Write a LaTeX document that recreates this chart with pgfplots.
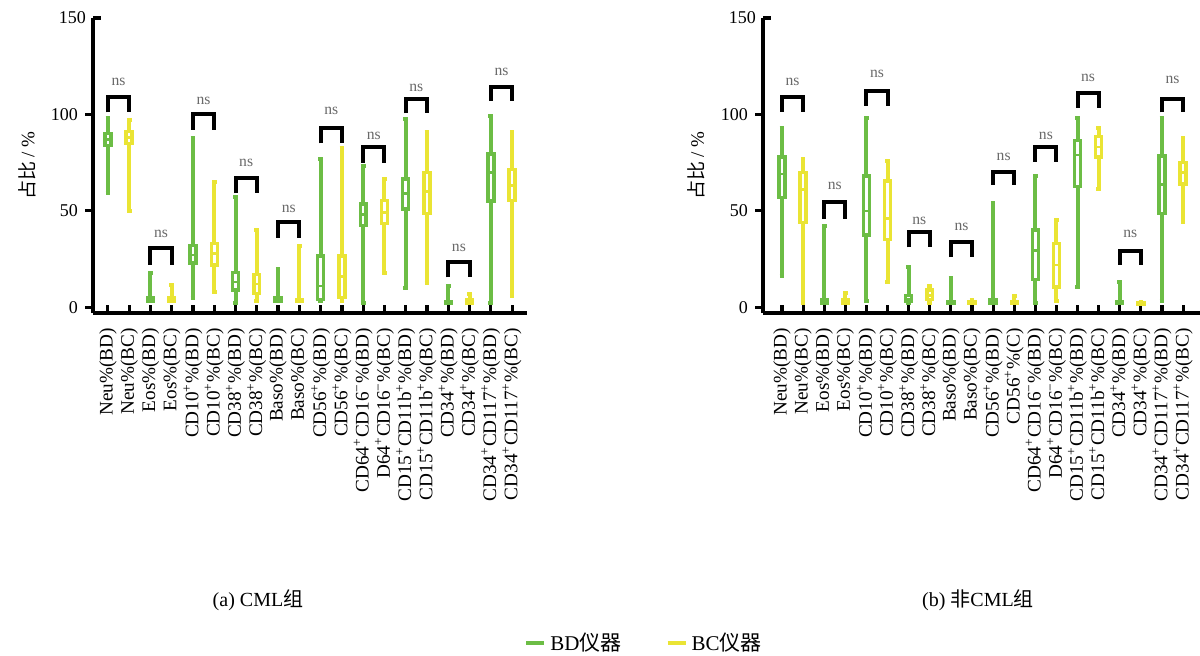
\documentclass[border=0pt]{standalone}
\usepackage{fontspec}
\setmainfont{Liberation Serif}
\newfontfamily\cjk{Noto Sans CJK SC}
\usepackage{pgfplots}
\pgfplotsset{compat=1.18}
\usepgfplotslibrary{statistics}
\definecolor{bdg}{RGB}{108,189,69}
\definecolor{bcy}{RGB}{234,228,52}
\definecolor{nsgray}{RGB}{105,105,105}

\pgfplotsset{
  boxplot/draw direction=y,
  boxplot/box extend=0.28,
  boxplot/whisker extend=0.22,
  boxplot/every box/.style={line width=1.7pt, fill=white},
  boxplot/every whisker/.style={line width=2pt},
  boxplot/every median/.style={line width=1.3pt},
  gbox/.style={draw=bdg, solid, forget plot},
  ybox/.style={draw=bcy, solid, forget plot},
  panel/.style={
    scale only axis, height=147.5pt,
    ymin=-3, ymax=150, clip=false,
    axis lines=left, axis line style={-, line width=2pt, black},
    ytick={0,50,100}, extra y ticks={150},
    extra y tick style={ytick align=inside},
    ytick align=outside, xtick align=inside,
    major tick length=4pt,
    tick style={line width=1.6pt, black},
    xtick={0,...,19},
    /pgf/number format/assume math mode=true,
    yticklabel style={font=\fontsize{9}{9}\selectfont},
    xticklabel style={rotate=90, anchor=east, font=\fontsize{9.6}{9.6}\selectfont},
    xticklabel shift=4pt,
    ylabel={{\cjk 占比} / \%},
    ylabel style={font=\fontsize{9.5}{9.5}\selectfont, at={(axis description cs:-0.152,0.5)}, anchor=center},
  },
}
\newcommand{\bx}[7]{\addplot[#1, boxplot prepared={draw position=#2, lower whisker=#3, lower quartile=#4, median=#5, upper quartile=#6, upper whisker=#7}] coordinates {};}
\newcommand{\br}[5]{\addplot[black, line width=2pt, line join=miter, forget plot] coordinates {(#1,#3) (#1,#4) (#2,#4) (#2,#3)};
  \node[font=\fontsize{7.8}{7.8}\selectfont, text=nsgray] at (axis cs:#1.5,#5) {ns};}

\begin{document}
\begin{tikzpicture}
\path[use as bounding box] (0,0) rectangle (600pt,327.5pt);
% ---------------- (a) CML ----------------
\begin{axis}[panel, at={(46.5pt,171pt)}, anchor=south west, width=217pt,
  xmin=-0.7, xmax=19.7,
  xticklabels={{Neu\%(BD)},{Neu\%(BC)},{Eos\%(BD)},{Eos\%(BC)},
    {CD10\textsuperscript{+}\%(BD)},{CD10\textsuperscript{+}\%(BC)},
    {CD38\textsuperscript{+}\%(BD)},{CD38\textsuperscript{+}\%(BC)},
    {Baso\%(BD)},{Baso\%(BC)},
    {CD56\textsuperscript{+}\%(BD)},{CD56\textsuperscript{+}\%(BC)},
    {CD64\textsuperscript{+}CD16\textsuperscript{−}\%(BD)},{D64\textsuperscript{+}CD16\textsuperscript{−}\%(BC)},
    {CD15\textsuperscript{+}CD11b\textsuperscript{+}\%(BD)},{CD15\textsuperscript{+}CD11b\textsuperscript{+}\%(BC)},
    {CD34\textsuperscript{+}\%(BD)},{CD34\textsuperscript{+}\%(BC)},
    {CD34\textsuperscript{+}CD117\textsuperscript{+}\%(BD)},{CD34\textsuperscript{+}CD117\textsuperscript{+}\%(BC)}},
  legend style={at={(1.272,-1.119)}, anchor=center, draw=none, fill=none,
    legend columns=2, font=\fontsize{10.5}{10.5}\selectfont,
    /tikz/every even column/.append style={column sep=20pt},
    legend cell align=left},
]
\bx{gbox}{0}{59}{84}{87}{90}{98}
\bx{ybox}{1}{50}{85}{88}{91}{97}
\bx{gbox}{2}{3}{3}{4}{5}{18}
\bx{ybox}{3}{3}{3}{4}{5}{11.5}
\bx{gbox}{4}{5}{23}{27}{32}{88}
\bx{ybox}{5}{8}{22}{28}{33}{65}
\bx{gbox}{6}{2}{9}{13}{18}{57}
\bx{ybox}{7}{3}{7}{12}{17}{40}
\bx{gbox}{8}{3}{3}{4}{5}{20}
\bx{ybox}{9}{3}{3}{3.5}{4}{32}
\bx{gbox}{10}{3}{4}{11}{26.5}{77}
\bx{ybox}{11}{3}{5}{16}{26.5}{82.5}
\bx{gbox}{12}{2}{42.5}{48}{53.5}{73}
\bx{ybox}{13}{18}{43.5}{49}{55.5}{66.5}
\bx{gbox}{14}{10}{51}{59}{66.5}{97.5}
\bx{ybox}{15}{12.5}{48.5}{60}{70}{91}
\bx{gbox}{16}{2}{2}{2.5}{3}{11}
\bx{ybox}{17}{2}{2}{3}{4}{7}
\bx{gbox}{18}{2}{55}{70}{79.5}{99}
\bx{ybox}{19}{6}{55.5}{63}{71.5}{91}
\br{0}{1}{101}{109}{117}
\br{2}{3}{22}{30.5}{38}
\br{4}{5}{92}{100}{107}
\br{6}{7}{59}{67}{75}
\br{8}{9}{36}{44}{51}
\br{10}{11}{85}{93}{102}
\br{12}{13}{75}{83}{89}
\br{14}{15}{100.5}{108}{114}
\br{16}{17}{15.5}{23.5}{31}
\br{18}{19}{107}{114}{122}
\addlegendimage{legend image code/.code={\draw[line width=2pt, bdg] (0pt,0pt) -- (9pt,0pt);}}
\addlegendentry{BD{\cjk 仪器}}
\addlegendimage{legend image code/.code={\draw[line width=2pt, bcy] (0pt,0pt) -- (9pt,0pt);}}
\addlegendentry{BC{\cjk 仪器}}
\end{axis}
% ---------------- (b) non-CML ----------------
\begin{axis}[panel, at={(381.5pt,171pt)}, anchor=south west, width=218.5pt,
  xmin=-0.9, xmax=19.8,
  xticklabels={{Neu\%(BD)},{Neu\%(BC)},{Eos\%(BD)},{Eos\%(BC)},
    {CD10\textsuperscript{+}\%(BD)},{CD10\textsuperscript{+}\%(BC)},
    {CD38\textsuperscript{+}\%(BD)},{CD38\textsuperscript{+}\%(BC)},
    {Baso\%(BD)},{Baso\%(BC)},
    {CD56\textsuperscript{+}\%(BD)},{CD56\textsuperscript{+}\%(C)},
    {CD64\textsuperscript{+}CD16\textsuperscript{−}\%(BD)},{D64\textsuperscript{+}CD16\textsuperscript{−}\%(BC)},
    {CD15\textsuperscript{+}CD11b\textsuperscript{+}\%(BD)},{CD15\textsuperscript{+}CD11b\textsuperscript{+}\%(BC)},
    {CD34\textsuperscript{+}\%(BD)},{CD34\textsuperscript{+}\%(BC)},
    {CD34\textsuperscript{+}CD117\textsuperscript{+}\%(BD)},{CD34\textsuperscript{+}CD117\textsuperscript{+}\%(BC)}},
]
\bx{gbox}{0}{16}{57}{69}{78}{93}
\bx{ybox}{1}{2}{44}{61}{70}{77}
\bx{gbox}{2}{2}{2}{3}{4}{42}
\bx{ybox}{3}{2}{2}{3}{4}{7.5}
\bx{gbox}{4}{3}{37.5}{50}{68}{98}
\bx{ybox}{5}{13}{35}{46}{65.5}{76}
\bx{gbox}{6}{2}{3}{4}{6}{21}
\bx{ybox}{7}{2}{4}{6}{9}{11}
\bx{gbox}{8}{2}{2}{2.5}{3}{15}
\bx{ybox}{9}{2}{2}{2.5}{3}{4}
\bx{gbox}{10}{2}{2}{3}{4}{54}
\bx{ybox}{11}{2}{2}{2.5}{3}{6}
\bx{gbox}{12}{2}{14.5}{29.5}{40}{68}
\bx{ybox}{13}{3}{10.5}{22}{33}{45}
\bx{gbox}{14}{10.5}{62.5}{79}{86.5}{98}
\bx{ybox}{15}{61.5}{78}{83}{88.5}{93}
\bx{gbox}{16}{2}{2}{2.5}{3}{13}
\bx{ybox}{17}{1.5}{1.5}{2}{2.5}{2.5}
\bx{gbox}{18}{3}{48.5}{63.5}{78.5}{98}
\bx{ybox}{19}{44}{64}{70}{75}{88}
\br{0}{1}{101.5}{109}{117}
\br{2}{3}{46}{54.5}{63}
\br{4}{5}{104.5}{112}{121}
\br{6}{7}{31}{39}{45}
\br{8}{9}{26}{34}{41.5}
\br{10}{11}{63.5}{70}{78}
\br{12}{13}{75.5}{83}{89}
\br{14}{15}{103.5}{111}{119}
\br{16}{17}{22}{29}{38}
\br{18}{19}{101}{108}{118}
\end{axis}
\node[font=\fontsize{10}{10}\selectfont] at (129pt,27.5pt) {(a) CML{\cjk 组}};
\node[font=\fontsize{10}{10}\selectfont] at (489pt,27.5pt) {(b) {\cjk 非}CML{\cjk 组}};
\end{tikzpicture}
\end{document}
